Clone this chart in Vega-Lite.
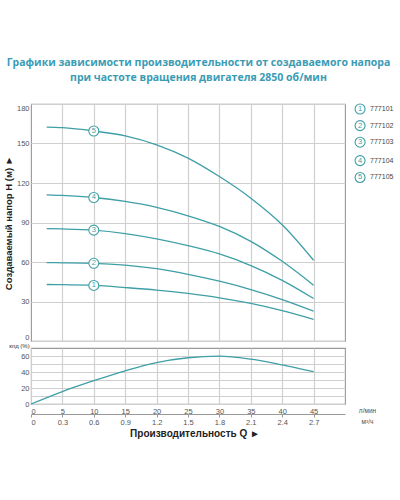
{
  "$schema": "https://vega.github.io/schema/vega-lite/v6.json",
  "background": "white",
  "padding": {"left": 2, "top": 57, "right": 0, "bottom": 5},
  "title": {
    "text": ["Графики зависимости производительности от создаваемого напора", "при частоте вращения двигателя 2850 об/мин"],
    "font": "Open Sans", "fontSize": 10.5, "fontWeight": "bold", "color": "#3a9bb5",
    "anchor": "middle", "frame": "bounds", "lineHeight": 15, "offset": 18
  },
  "config": {
    "view": {"stroke": "#999", "strokeWidth": 1.1},
    "axis": {
      "labelFont": "Liberation Sans", "labelFontSize": 7.5, "labelColor": "#555", "labelOverlap": false,
      "tickColor": "#999", "domainColor": "#999", "gridColor": "#cfcfcf", "gridWidth": 1.2,
      "titleFont": "Liberation Sans"
    }
  },
  "datasets": {
    "curves": [
      {"c": "1", "q": 2.5, "h": 42.9}, {"c": "1", "q": 5, "h": 42.8}, {"c": "1", "q": 10, "h": 42.2}, {"c": "1", "q": 15, "h": 40.6}, {"c": "1", "q": 20, "h": 38.7}, {"c": "1", "q": 25, "h": 36.1}, {"c": "1", "q": 30, "h": 32.8}, {"c": "1", "q": 35, "h": 28.5}, {"c": "1", "q": 40, "h": 23.0}, {"c": "1", "q": 45, "h": 16.4},
      {"c": "2", "q": 2.5, "h": 59.5}, {"c": "2", "q": 5, "h": 59.4}, {"c": "2", "q": 10, "h": 59.0}, {"c": "2", "q": 15, "h": 57.6}, {"c": "2", "q": 20, "h": 54.9}, {"c": "2", "q": 25, "h": 50.6}, {"c": "2", "q": 30, "h": 45.4}, {"c": "2", "q": 35, "h": 39.1}, {"c": "2", "q": 40, "h": 31.5}, {"c": "2", "q": 45, "h": 22.7},
      {"c": "3", "q": 2.5, "h": 85.3}, {"c": "3", "q": 5, "h": 85.1}, {"c": "3", "q": 10, "h": 84.2}, {"c": "3", "q": 15, "h": 81.6}, {"c": "3", "q": 20, "h": 77.6}, {"c": "3", "q": 25, "h": 72.4}, {"c": "3", "q": 30, "h": 66.1}, {"c": "3", "q": 35, "h": 57.3}, {"c": "3", "q": 40, "h": 46.1}, {"c": "3", "q": 45, "h": 32.3},
      {"c": "4", "q": 2.5, "h": 111.0}, {"c": "4", "q": 5, "h": 110.6}, {"c": "4", "q": 10, "h": 109.0}, {"c": "4", "q": 15, "h": 106.0}, {"c": "4", "q": 20, "h": 101.5}, {"c": "4", "q": 25, "h": 95.1}, {"c": "4", "q": 30, "h": 87.0}, {"c": "4", "q": 35, "h": 75.7}, {"c": "4", "q": 40, "h": 60.5}, {"c": "4", "q": 45, "h": 42.4},
      {"c": "5", "q": 2.5, "h": 162.4}, {"c": "5", "q": 5, "h": 162.0}, {"c": "5", "q": 10, "h": 159.5}, {"c": "5", "q": 15, "h": 155.8}, {"c": "5", "q": 20, "h": 149.0}, {"c": "5", "q": 25, "h": 138.9}, {"c": "5", "q": 30, "h": 124.9}, {"c": "5", "q": 35, "h": 108.5}, {"c": "5", "q": 40, "h": 88.3}, {"c": "5", "q": 45, "h": 61.3}
    ],
    "legend": [
      {"c": "1", "label": "777101", "q": 52.4, "h": 176.2},
      {"c": "2", "label": "777102", "q": 52.4, "h": 163.6},
      {"c": "3", "label": "777103", "q": 52.4, "h": 151.0},
      {"c": "4", "label": "777104", "q": 52.4, "h": 137.0},
      {"c": "5", "label": "777105", "q": 52.4, "h": 124.2}
    ],
    "eff": [
      {"q": 0, "e": 0}, {"q": 5, "e": 15.6}, {"q": 10, "e": 29.1}, {"q": 15, "e": 41.5}, {"q": 20, "e": 51.8}, {"q": 25, "e": 57.8}, {"q": 30, "e": 59.8}, {"q": 35, "e": 56.0}, {"q": 40, "e": 48.9}, {"q": 45, "e": 40.3}
    ],
    "m3": [
      {"m": 0}, {"m": 0.3}, {"m": 0.6}, {"m": 0.9}, {"m": 1.2}, {"m": 1.5}, {"m": 1.8}, {"m": 2.1}, {"m": 2.4}, {"m": 2.7}
    ]
  },
  "spacing": -1,
  "vconcat": [
    {
      "width": 314,
      "height": 237,
      "encoding": {
        "x": {"field": "q", "type": "quantitative", "scale": {"domain": [0, 50], "nice": false},
          "axis": {"values": [5, 10, 15, 20, 25, 30, 35, 40, 45], "labels": false, "ticks": false, "domain": false, "title": null, "grid": true}},
        "y": {"field": "h", "type": "quantitative", "scale": {"domain": [0, 180], "nice": false},
          "axis": {"values": [0, 30, 60, 90, 120, 150, 180], "labelOverlap": false, "labelFlush": true, "grid": true, "ticks": false, "domain": false, "labelPadding": 2,
            "title": "Создаваемый напор H (м) ►", "titleFontSize": 9.5, "titleFontWeight": "bold", "titleColor": "#222", "titlePadding": 3}}
      },
      "layer": [
        {
          "data": {"name": "curves"},
          "mark": {"type": "line", "interpolate": "monotone", "color": "#3e9fa6", "strokeWidth": 1.3},
          "encoding": {"detail": {"field": "c"}}
        },
        {
          "data": {"name": "curves"},
          "transform": [{"filter": "datum.q == 10"}],
          "mark": {"type": "point", "shape": "circle", "filled": true, "fill": "white", "stroke": "#3e9fa6", "strokeWidth": 1.1, "size": 100, "opacity": 1},
          "encoding": {}
        },
        {
          "data": {"name": "curves"},
          "transform": [{"filter": "datum.q == 10"}],
          "mark": {"type": "text", "font": "Liberation Sans", "fontSize": 7.5, "color": "#3e9fa6", "baseline": "middle", "align": "center"},
          "encoding": {"text": {"field": "c"}}
        },
        {
          "data": {"name": "legend"},
          "mark": {"type": "point", "shape": "circle", "filled": true, "fill": "white", "stroke": "#3e9fa6", "strokeWidth": 1.1, "size": 100, "opacity": 1},
          "encoding": {}
        },
        {
          "data": {"name": "legend"},
          "mark": {"type": "text", "font": "Liberation Sans", "fontSize": 7.5, "color": "#3e9fa6", "baseline": "middle", "align": "center"},
          "encoding": {"text": {"field": "c"}}
        },
        {
          "data": {"name": "legend"},
          "mark": {"type": "text", "font": "Liberation Sans", "fontSize": 7, "color": "#444", "baseline": "middle", "align": "left", "dx": 10},
          "encoding": {"text": {"field": "label"}}
        }
      ]
    },
    {
      "width": 314,
      "height": 56,
      "title": {"text": "Производительность Q ►", "orient": "bottom", "anchor": "middle", "font": "Liberation Sans", "fontSize": 10, "fontWeight": "bold", "color": "#222", "offset": 3, "dx": 7},
      "layer": [
        {
          "data": {"name": "eff"},
          "mark": {"type": "line", "interpolate": "monotone", "color": "#3e9fa6", "strokeWidth": 1.3},
          "encoding": {
            "x": {"field": "q", "type": "quantitative", "scale": {"domain": [0, 50], "nice": false},
              "axis": {"orient": "bottom", "values": [0, 5, 10, 15, 20, 25, 30, 35, 40, 45], "labelOverlap": false, "grid": true, "ticks": false, "domain": false, "labelPadding": 3,
                "title": "л/мин", "titleFontSize": 6.5, "titleFontWeight": "normal", "titleColor": "#555", "titleX": 336, "titleY": 6, "titleAlign": "center", "titleBaseline": "middle", "titleAngle": 0}},
            "y": {"field": "e", "type": "quantitative", "scale": {"domain": [0, 70], "nice": false},
              "axis": {"values": [0, 10, 20, 30, 40, 50, 60], "labelOverlap": false, "labelExpr": "datum.value % 20 == 0 ? datum.label : ''", "grid": true, "ticks": false, "domain": false, "labelPadding": 2,
                "title": "кпд (%)", "titleFontSize": 6, "titleFontWeight": "normal", "titleColor": "#333", "titleAngle": 0, "titleX": -12, "titleY": 0, "titleAlign": "center", "titleBaseline": "bottom"}}
          }
        },
        {
          "data": {"name": "m3"},
          "mark": {"type": "point", "opacity": 0},
          "encoding": {
            "x": {"field": "m", "type": "quantitative", "scale": {"domain": [0, 3], "nice": false},
              "axis": {"orient": "bottom", "offset": 10, "values": [0, 0.3, 0.6, 0.9, 1.2, 1.5, 1.8, 2.1, 2.4, 2.7], "labelOverlap": false, "labelExpr": "datum.value == 0 ? '0' : format(datum.value, '.1f')", "grid": false, "ticks": true, "tickSize": 3, "domain": true, "labelPadding": 1,
                "title": "м³/ч", "titleFontSize": 6.5, "titleFontWeight": "normal", "titleColor": "#555", "titleX": 336, "titleY": 7, "titleAlign": "center", "titleBaseline": "middle", "titleAngle": 0}}
          }
        }
      ],
      "resolve": {"scale": {"x": "independent"}}
    }
  ]
}
